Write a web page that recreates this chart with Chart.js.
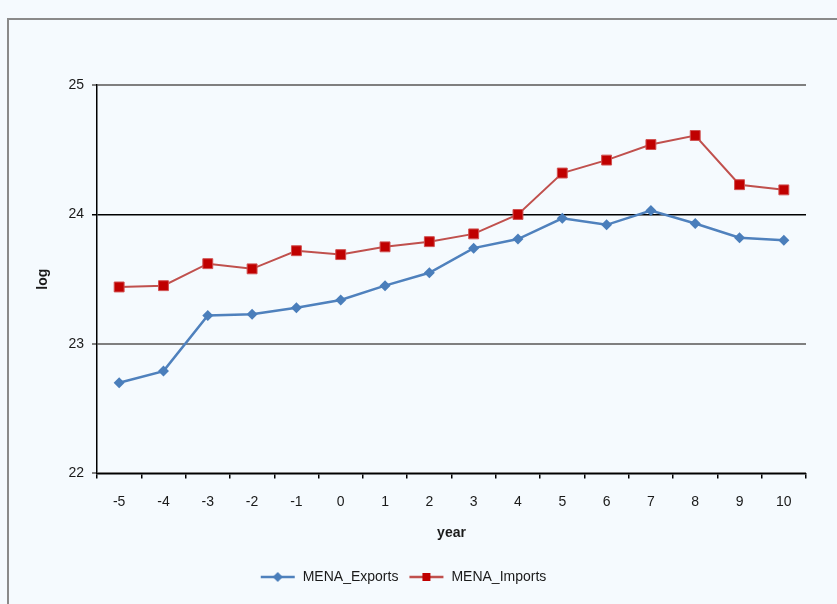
<!DOCTYPE html>
<html>
<head>
<meta charset="utf-8">
<script src="https://cdn.jsdelivr.net/npm/chart.js@4"></script>
<style>
  html, body { margin: 0; padding: 0; background: #f5fafe; }
  #wrap { width: 837px; height: 604px; position: relative; }
</style>
</head>
<body>
<div id="wrap"><canvas id="myChart"></canvas></div>
<script>
var years = ["-5", "-4", "-3", "-2", "-1", "0", "1", "2", "3", "4", "5", "6", "7", "8", "9", "10"];
var exportsLog = [22.70, 22.79, 23.22, 23.23, 23.28, 23.34, 23.45, 23.55, 23.74, 23.81, 23.97, 23.92, 24.03, 23.93, 23.82, 23.80];
var importsLog = [23.44, 23.45, 23.62, 23.58, 23.72, 23.69, 23.75, 23.79, 23.85, 24.00, 24.32, 24.42, 24.54, 24.61, 24.23, 24.19];
var yTicks = [22, 23, 24, 25];

var font = "'Liberation Sans', Arial, sans-serif";

// small line+marker pictures for the legend
function legendIcon(color, fill, shape) {
  var c = document.createElement("canvas");
  c.width = 36; c.height = 12;
  var g = c.getContext("2d");
  g.strokeStyle = color;
  g.lineWidth = 2.5;
  g.beginPath(); g.moveTo(1, 6); g.lineTo(35, 6); g.stroke();
  g.fillStyle = fill;
  if (shape === "diamond") {
    g.beginPath(); g.moveTo(18, 1); g.lineTo(23, 6); g.lineTo(18, 11); g.lineTo(13, 6); g.closePath(); g.fill();
  } else {
    g.fillRect(14, 2, 8, 8);
  }
  return c;
}

var framePlugin = {
  id: "frame",
  beforeDraw: function (chart) {
    var ctx = chart.ctx;
    ctx.save();
    ctx.fillStyle = "#f5fafe";
    ctx.fillRect(0, 0, chart.width, chart.height);
    ctx.strokeStyle = "#8a8a8a";
    ctx.lineWidth = 2;
    ctx.beginPath();
    ctx.moveTo(8, chart.height);
    ctx.lineTo(8, 19);
    ctx.lineTo(chart.width, 19);
    ctx.stroke();
    ctx.restore();
  }
};

new Chart("myChart", {
  type: "line",
  data: {
    labels: years,
    datasets: [{
      label: "MENA_Exports",
      data: exportsLog,
      borderColor: "#4f81bd",
      backgroundColor: "#4a7ebb",
      borderWidth: 2.5,
      pointStyle: "rectRot",
      pointRadius: 5.5,
      pointBorderWidth: 0,
      pointBackgroundColor: "#4a7ebb",
      tension: 0
    }, {
      label: "MENA_Imports",
      data: importsLog,
      borderColor: "#c0504d",
      backgroundColor: "#c00000",
      borderWidth: 2,
      pointStyle: "rect",
      pointRadius: 7,
      pointBorderWidth: 1,
      pointBorderColor: "#d05050",
      pointBackgroundColor: "#c00000",
      tension: 0
    }]
  },
  options: {
    responsive: true,
    maintainAspectRatio: false,
    animation: false,
    layout: { padding: { left: 0, right: 31, top: 85, bottom: 10 } },
    plugins: {
      legend: {
        position: "bottom",
        labels: {
          usePointStyle: true,
          pointStyleWidth: 36,
          color: "#1a1a1a",
          font: { family: font, size: 14 },
          padding: 10,
          generateLabels: function (chart) {
            return [
              { text: "MENA_Exports", pointStyle: legendIcon("#4f81bd", "#4a7ebb", "diamond"), datasetIndex: 0, lineWidth: 0, fillStyle: "#4a7ebb", strokeStyle: "#4f81bd", fontColor: "#1a1a1a" },
              { text: "MENA_Imports", pointStyle: legendIcon("#c0504d", "#c00000", "square"), datasetIndex: 1, lineWidth: 0, fillStyle: "#c00000", strokeStyle: "#c0504d", fontColor: "#1a1a1a" }
            ];
          }
        }
      },
      tooltip: { enabled: false }
    },
    scales: {
      x: {
        offset: true,
        grid: { offset: true, drawOnChartArea: false, drawTicks: true, tickLength: 5, color: "#000", lineWidth: 1.5 },
        border: { color: "#000", width: 1.5 },
        ticks: { color: "#1a1a1a", font: { family: font, size: 14 }, padding: 15, maxRotation: 0, autoSkip: false },
        title: { display: true, text: "year", color: "#1a1a1a", font: { family: font, size: 14, weight: "bold" }, padding: { top: 0, bottom: 18 } }
      },
      y: {
        min: 22,
        max: 25,
        afterBuildTicks: function (scale) {
          scale.ticks = yTicks.map(function (v) { return { value: v }; });
        },
        afterFit: function (scale) { scale.width = 97; },
        grid: {
          drawTicks: true,
          tickLength: 5,
          color: function (c) { return c.tick && c.tick.value === 24 ? "#000000" : "#7f7f7f"; },
          lineWidth: function (c) { return c.tick && c.tick.value === 24 ? 1.5 : 2; }
        },
        border: { color: "#000", width: 1.5 },
        ticks: { color: "#1a1a1a", font: { family: font, size: 14 }, padding: 8 },
        title: { display: true, text: "log", color: "#1a1a1a", font: { family: font, size: 14, weight: "bold" }, padding: { top: 35, bottom: 0 } }
      }
    }
  },
  plugins: [framePlugin]
});
</script>
</body>
</html>
